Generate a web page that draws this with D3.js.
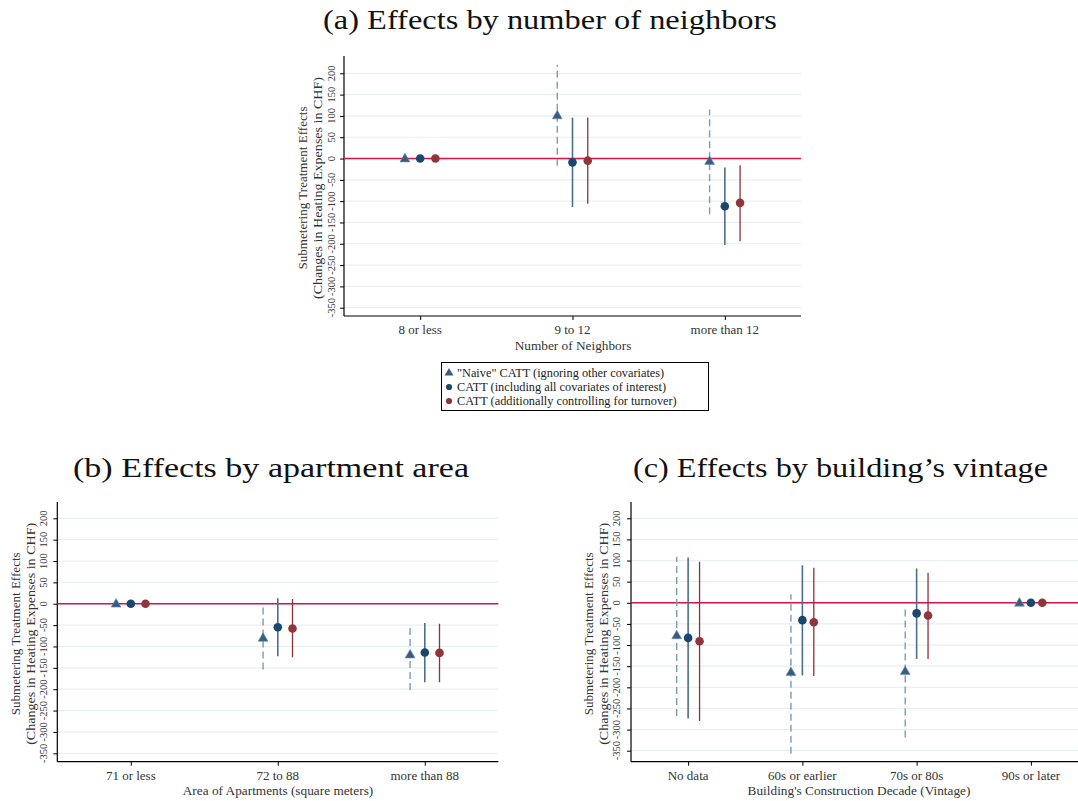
<!DOCTYPE html>
<html><head><meta charset="utf-8">
<script src="https://cdn.jsdelivr.net/npm/d3@7"></script>
<style>body{margin:0;background:#fff}svg{display:block}</style>
</head><body>
<svg id="c" width="1078" height="801"></svg>
<script>
// ---------- data ----------
const yTicks = [-350,-300,-250,-200,-150,-100,-50,0,50,100,150,200];
const legendLabels = ['"Naive" CATT (ignoring other covariates)','CATT (including all covariates of interest)','CATT (additionally controlling for turnover)'];
const yTitleLines = ["Submetering Treatment Effects","(Changes in Heating Expenses in CHF)"];

const catsA = ["8 or less","9 to 12","more than 12"];
const naiveA = [0,101,-6];   const naiveLoA = [null,-17,-131]; const naiveHiA = [null,220,115];
const cattA  = [0,-9,-112];  const cattLoA  = [null,-114,-203]; const cattHiA  = [null,96,-21];
const turnA  = [0,-5,-104];  const turnLoA  = [null,-106,-194]; const turnHiA  = [null,96,-16];

const catsB = ["71 or less","72 to 88","more than 88"];
const naiveB = [0,-80,-119]; const naiveLoB = [null,-154,-202]; const naiveHiB = [null,-8,-49];
const cattB  = [0,-55,-114]; const cattLoB  = [null,-123,-184]; const cattHiB  = [null,13,-45];
const turnB  = [0,-58,-115]; const turnLoB  = [null,-125,-184]; const turnHiB  = [null,11,-47];

const catsC = ["No data","60s or earlier","70s or 80s","90s or later"];
const naiveC = [-77,-164,-162,0]; const naiveLoC = [-268,-357,-319,null]; const naiveHiC = [109,20,-7,null];
const cattC  = [-83,-41,-25,0];   const cattLoC  = [-274,-172,-133,null]; const cattHiC  = [107,89,81,null];
const turnC  = [-91,-46,-30,0];   const turnLoC  = [-280,-173,-133,null]; const turnHiC  = [97,83,71,null];

// ---------- style ----------
const C = {navy:"#1a476f", tri:"#375d85", naiveCI:"#7f9ab5", cattCI:"#4d6e91", red:"#90353b", redCI:"#8e3239", ref:"#d1164a", grid:"#e7eff1"};
const serif = "Liberation Serif, serif";

const svg = d3.select("#c");

function panel(cfg){
  const g = svg.append("g");
  const n = cfg.cats.length;
  const xr = Math.min(cfg.right,1078);
  const x = d3.scaleLinear().domain([0.5, n+0.5]).range([cfg.left, cfg.right]);
  const y = d3.scaleLinear().domain([-350,200]).range([cfg.y350, cfg.y200]);
  const clipId = "clip"+cfg.id;
  svg.append("clipPath").attr("id",clipId).append("rect")
     .attr("x",cfg.left).attr("y",cfg.top).attr("width",xr-cfg.left).attr("height",cfg.bottom-cfg.top);
  // grid
  g.append("g").selectAll("line").data(yTicks).join("line")
    .attr("x1",cfg.left).attr("x2",xr).attr("y1",d=>y(d)).attr("y2",d=>y(d))
    .attr("stroke",C.grid).attr("stroke-width",1.2);
  // y axis (ticks via d3 axis, labels drawn rotated)
  const ya = d3.axisLeft(y).tickValues(yTicks).tickSize(4).tickFormat("");
  const yg = g.append("g").attr("transform",`translate(${cfg.left},0)`).call(ya);
  yg.select(".domain").attr("d",`M0,${cfg.top}V${cfg.bottom}`).attr("stroke","#000").attr("stroke-width",1.2);
  yg.selectAll(".tick line").attr("stroke","#000");
  g.append("g").selectAll("text").data(yTicks).join("text")
    .attr("transform",d=>`translate(${cfg.tickLabX + 3.5},${y(d)}) rotate(-90)`)
    .attr("text-anchor","middle").attr("font-family",serif).attr("font-size",10.5).attr("fill","#333")
    .text(d=>String(d));
  // y title
  g.append("g").selectAll("text").data(yTitleLines).join("text")
    .attr("transform",(d,i)=>`translate(${cfg.titleX + 4 + i*14.5},${(cfg.top+cfg.bottom)/2 + 2}) rotate(-90)`)
    .attr("text-anchor","middle").attr("font-family",serif).attr("font-size",13.5).attr("fill","#333")
    .attr("textLength",(d,i)=>i===0?163:222).attr("lengthAdjust","spacingAndGlyphs")
    .text(d=>d);
  // x axis
  const xa = d3.axisBottom(x).tickValues(d3.range(1,n+1)).tickSize(4).tickFormat("");
  const xg = g.append("g").attr("transform",`translate(0,${cfg.bottom})`).call(xa);
  xg.select(".domain").attr("d",`M${cfg.left},0H${xr}`).attr("stroke","#000").attr("stroke-width",1.2);
  xg.selectAll(".tick line").attr("stroke","#000");
  g.append("g").selectAll("text").data(cfg.cats).join("text")
    .attr("x",(d,i)=>x(i+1)).attr("y",cfg.catLabY).attr("text-anchor","middle")
    .attr("font-family",serif).attr("font-size",13).attr("fill","#333").text(d=>d);
  g.append("text").attr("x",cfg.xTitleX).attr("y",cfg.xTitleY).attr("text-anchor","middle")
    .attr("font-family",serif).attr("font-size",13.3).attr("fill","#333").text(cfg.xTitle);
  // reference line
  g.append("line").attr("x1",cfg.left).attr("x2",xr).attr("y1",y(0)).attr("y2",y(0))
    .attr("stroke",C.ref).attr("stroke-width",1.5);
  const marks = g.append("g").attr("clip-path",`url(#${clipId})`);
  const off = 0.1;
  const series = [
    {v:cfg.naive, lo:cfg.naiveLo, hi:cfg.naiveHi, dx:-off, ci:C.naiveCI, dash:"7,4", w:1.4, kind:"tri", col:C.tri},
    {v:cfg.catt, lo:cfg.cattLo, hi:cfg.cattHi, dx:0, ci:C.cattCI, dash:null, w:1.6, kind:"circ", col:C.navy},
    {v:cfg.turn, lo:cfg.turnLo, hi:cfg.turnHi, dx:off, ci:C.redCI, dash:null, w:1.3, kind:"circ", col:C.red}
  ];
  series.forEach(s=>{
    const d = s.v.map((v,i)=>({i:i+1, v, lo:s.lo[i], hi:s.hi[i]}));
    marks.append("g").selectAll("line").data(d.filter(e=>e.lo!==null)).join("line")
      .attr("x1",e=>x(e.i+s.dx)).attr("x2",e=>x(e.i+s.dx)).attr("y1",e=>y(e.lo)).attr("y2",e=>y(e.hi))
      .attr("stroke",s.ci).attr("stroke-width",s.w).attr("stroke-dasharray",s.dash);
  });
  series.forEach(s=>{
    const d = s.v.map((v,i)=>({i:i+1, v}));
    if (s.kind==="tri"){
      marks.append("g").selectAll("path").data(d).join("path")
        .attr("d",d3.symbol().type(d3.symbolTriangle).size(42))
        .attr("transform",e=>`translate(${x(e.i+s.dx)},${y(e.v)+0.5})`).attr("fill",s.col).attr("stroke","#6f8aa6").attr("stroke-width",0.6);
    } else {
      marks.append("g").selectAll("circle").data(d).join("circle")
        .attr("cx",e=>x(e.i+s.dx)).attr("cy",e=>y(e.v)).attr("r",4.3).attr("fill",s.col);
    }
  });
}

panel({id:"a", cats:catsA, naive:naiveA, naiveLo:naiveLoA, naiveHi:naiveHiA, catt:cattA, cattLo:cattLoA, cattHi:cattHiA, turn:turnA, turnLo:turnLoA, turnHi:turnHiA,
  left:344, right:801, top:56, bottom:316, y200:73.3, y350:307.7, tickLabX:331.5, titleX:303, catLabY:334, xTitleY:350, xTitleX:573, xTitle:"Number of Neighbors"});
panel({id:"b", cats:catsB, naive:naiveB, naiveLo:naiveLoB, naiveHi:naiveHiB, catt:cattB, cattLo:cattLoB, cattHi:cattHiB, turn:turnB, turnLo:turnLoB, turnHi:turnHiB,
  left:57.3, right:498.3, top:502, bottom:761.7, y200:518.3, y350:753.3, tickLabX:43, titleX:16, catLabY:780, xTitleY:795, xTitleX:278, xTitle:"Area of Apartments (square meters)"});
panel({id:"c", cats:catsC, naive:naiveC, naiveLo:naiveLoC, naiveHi:naiveHiC, catt:cattC, cattLo:cattLoC, cattHi:cattHiC, turn:turnC, turnLo:turnLoC, turnHi:turnHiC,
  left:631, right:1088, top:502, bottom:761.7, y200:518.3, y350:750.7, tickLabX:616.5, titleX:589, catLabY:780, xTitleY:795, xTitleX:859, xTitle:"Building's Construction Decade (Vintage)"});

// titles
const titles = [
  {t:"(a) Effects by number of neighbors", x:323, w:454, y:29},
  {t:"(b) Effects by apartment area", x:73, w:396, y:477},
  {t:"(c) Effects by building\u2019s vintage", x:633, w:415, y:477}
];
svg.append("g").selectAll("text").data(titles).join("text")
  .attr("x",d=>d.x).attr("y",d=>d.y).attr("textLength",d=>d.w).attr("lengthAdjust","spacingAndGlyphs")
  .attr("font-family",serif).attr("font-size",27).attr("fill","#111").text(d=>d.t);

// legend
const lg = svg.append("g");
lg.append("rect").attr("x",441.5).attr("y",362.5).attr("width",267).attr("height",48).attr("fill","#fff").attr("stroke","#000").attr("stroke-width",1);
const legItems = legendLabels.map((t,i)=>({t,i}));
lg.selectAll("text").data(legItems).join("text").attr("x",457).attr("y",d=>377+d.i*14)
  .attr("font-family",serif).attr("font-size",12.3).attr("fill","#222").text(d=>d.t);
lg.selectAll("path").data(legItems).join("path")
  .attr("d",d=>d3.symbol().type(d.i===0?d3.symbolTriangle:d3.symbolCircle).size(d.i===0?34:30)())
  .attr("transform",d=>`translate(449,${373+d.i*14})`)
  .attr("fill",d=>[C.tri,C.navy,C.red][d.i]);
</script>
</body></html>
